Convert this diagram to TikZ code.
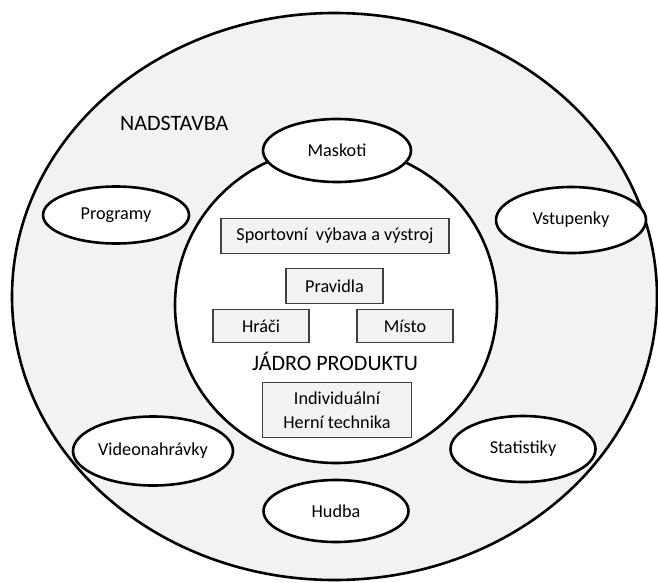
\documentclass[tikz,border=0pt]{standalone}
\usepackage{fontspec}
\setmainfont{Carlito}
\usetikzlibrary{shapes.geometric}
\definecolor{ringgray}{HTML}{F2F2F2}
\definecolor{boxline}{HTML}{404040}
\tikzset{
  every picture/.style={x=1pt,y=-1pt},
  oval/.style={ellipse,draw=black,line width=2.6pt,fill=white,inner sep=0pt,
    font=\fontsize{18.2}{21}\selectfont},
  corebox/.style={rectangle,draw=boxline,line width=1.3pt,fill=ringgray,inner sep=0pt,
    font=\fontsize{18.2}{21}\selectfont,align=center},
  bigtext/.style={font=\fontsize{22}{25}\selectfont,inner sep=0pt}
}
\begin{document}
\begin{tikzpicture}
\useasboundingbox (0,0) rectangle (658,582);
\clip (0,0) rectangle (658,582);
\fill[white] (0,0) rectangle (658,582);
% outer ring: the product extensions
\draw[fill=ringgray,line width=2.6pt] (334.5,296.5) ellipse [x radius=322.5,y radius=283.5];
% inner circle: the product core
\draw[fill=white,line width=2.6pt] (336,305) ellipse [x radius=161,y radius=158];
\node[bigtext,anchor=west] (nad) at (120,123) {NADSTAVBA};
\node[bigtext] (jadro) at (335,361) {JÁDRO PRODUKTU};
% extension ovals
\node[oval,minimum width=148,minimum height=63] (maskoti) at (337,150.5) {Maskoti};
\node[oval,minimum width=146,minimum height=57] (programy) at (116,215) {Programy};
\node[oval,minimum width=150,minimum height=66] (vstupenky) at (571,220) {Vstupenky};
\node[oval,minimum width=160,minimum height=69] (video) at (153,451) {Videonahrávky};
\node[oval,minimum width=145,minimum height=66] (statistiky) at (523,449) {Statistiky};
\node[oval,minimum width=145,minimum height=62] (hudba) at (336,511) {Hudba};
% core boxes
\node[corebox,minimum width=228,minimum height=35] (vybava) at (335,236) {Sportovní\ \ výbava a výstroj};
\node[corebox,minimum width=97,minimum height=35] (pravidla) at (334.5,286) {Pravidla};
\node[corebox,minimum width=96,minimum height=33] (hraci) at (261,326) {Hráči};
\node[corebox,minimum width=96,minimum height=33] (misto) at (405,326) {Místo};
\node[corebox,minimum width=149,minimum height=55,font=\fontsize{18.2}{24}\selectfont] (technika) at (337,410) {Individuální\\Herní technika};
\end{tikzpicture}
\end{document}
